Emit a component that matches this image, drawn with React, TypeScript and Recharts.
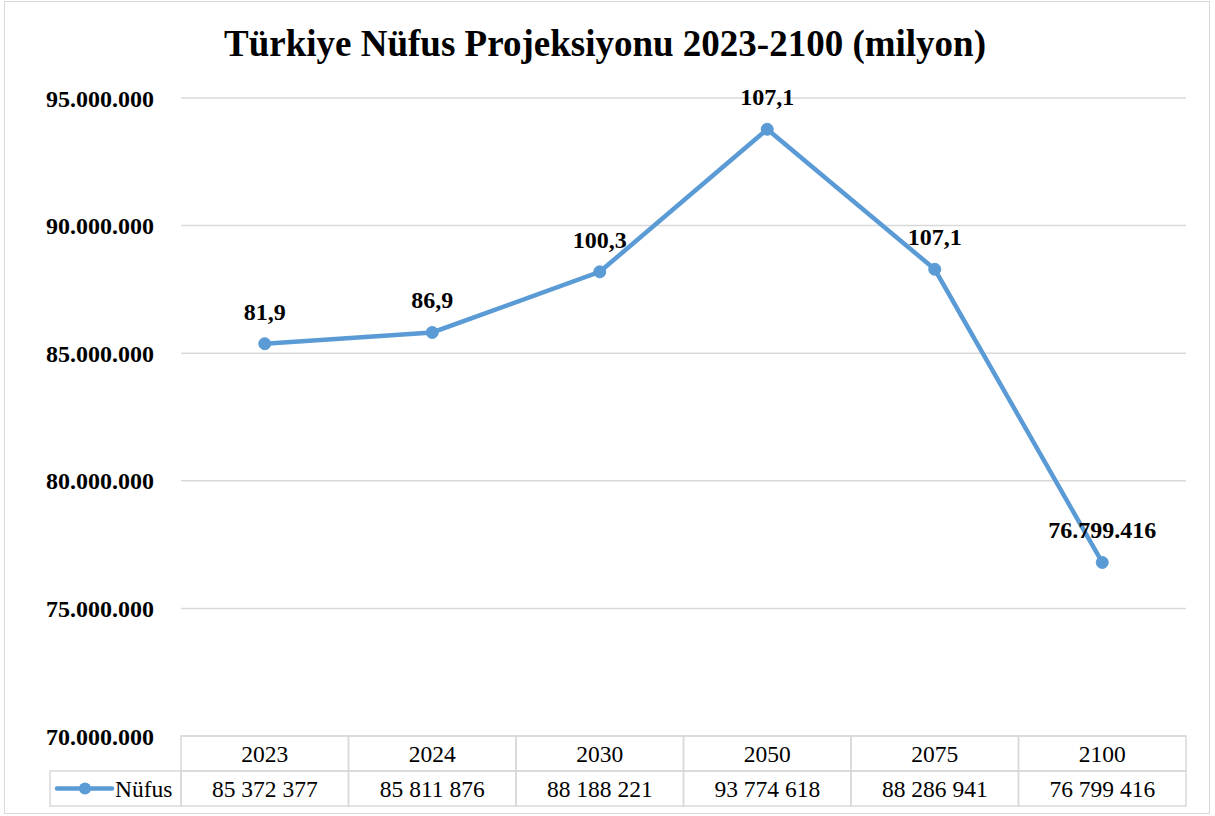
import React from 'react';
import { LineChart, Line, XAxis, YAxis, CartesianGrid, LabelList } from 'recharts';

const years = ['2023', '2024', '2030', '2050', '2075', '2100'];
const population = [85372377, 85811876, 88188221, 93774618, 88286941, 76799416];
const tableValues = ['85 372 377', '85 811 876', '88 188 221', '93 774 618', '88 286 941', '76 799 416'];
const pointLabels = ['81,9', '86,9', '100,3', '107,1', '107,1', '76.799.416'];
const yTicks = [70000000, 75000000, 80000000, 85000000, 90000000, 95000000];

const data = years.map((year, i) => ({ year, value: population[i] }));

const FONT = '"Liberation Serif", "Times New Roman", serif';
const BLUE = '#5b9bd5';
const GRID = '#d9d9d9';
const W = 1215;
const H = 816;
const PLOT_LEFT = 181;
const PLOT_RIGHT = 1186;
const PLOT_BOTTOM = 736;
const ROW_H = 35;
const COL_W = (PLOT_RIGHT - PLOT_LEFT) / years.length;

const TableTick = (props: any) => {
  const { x, payload } = props;
  const i = payload.index;
  const left = x - COL_W / 2;
  return (
    <g>
      <rect x={left} y={PLOT_BOTTOM} width={COL_W} height={ROW_H} fill="none" stroke={GRID} strokeWidth={1.5} />
      <rect x={left} y={PLOT_BOTTOM + ROW_H} width={COL_W} height={ROW_H} fill="none" stroke={GRID} strokeWidth={1.5} />
      <text x={x} y={PLOT_BOTTOM + ROW_H / 2 + 8} textAnchor="middle" fontSize={23.5} fontFamily={FONT} fill="#000">
        {payload.value}
      </text>
      <text x={x} y={PLOT_BOTTOM + ROW_H * 1.5 + 8} textAnchor="middle" fontSize={23.5} fontFamily={FONT} fill="#000">
        {tableValues[i]}
      </text>
      {i === 0 && (
        <g>
          <rect x={50} y={PLOT_BOTTOM + ROW_H} width={PLOT_LEFT - 50} height={ROW_H} fill="none" stroke={GRID} strokeWidth={1.5} />
          <line x1={57} x2={112} y1={PLOT_BOTTOM + ROW_H * 1.5} y2={PLOT_BOTTOM + ROW_H * 1.5} stroke={BLUE} strokeWidth={4.5} strokeLinecap="round" />
          <circle cx={85} cy={PLOT_BOTTOM + ROW_H * 1.5} r={6} fill={BLUE} />
          <text x={115} y={PLOT_BOTTOM + ROW_H * 1.5 + 8} fontSize={23.5} fontFamily={FONT} fill="#000">
            Nüfus
          </text>
        </g>
      )}
    </g>
  );
};

const PointLabel = (props: any) => {
  const { x, y, index } = props;
  return (
    <text x={x} y={y - 24} textAnchor="middle" fontSize={24} fontWeight="bold" fontFamily={FONT} fill="#000">
      {pointLabels[index]}
    </text>
  );
};

const App: React.FC = () => {
  return (
    <div style={{ position: 'fixed', left: 0, top: 0, width: W, height: H, background: '#fff' }}>
      <div
        style={{
          position: 'absolute',
          left: 4,
          top: 1,
          width: 1206,
          height: 813,
          border: `1.5px solid ${GRID}`,
          boxSizing: 'border-box',
        }}
      />
      <div
        style={{
          position: 'absolute',
          left: 0,
          top: 20,
          width: W - 5,
          textAlign: 'center',
          fontFamily: FONT,
          fontWeight: 'bold',
          fontSize: 37,
          lineHeight: '48px',
          color: '#000',
        }}
      >
        Türkiye Nüfus Projeksiyonu 2023-2100 (milyon)
      </div>
      <div style={{ position: 'absolute', left: 0, top: 0 }}>
        <LineChart
          width={W}
          height={H}
          data={data}
          margin={{ top: 98, right: W - PLOT_RIGHT, left: 0, bottom: 10 }}
        >
          <CartesianGrid vertical={false} stroke={GRID} strokeWidth={1.5} />
          <XAxis
            dataKey="year"
            axisLine={false}
            tickLine={false}
            height={H - 10 - PLOT_BOTTOM}
            tick={<TableTick />}
            interval={0}
            padding={{ left: COL_W / 2, right: COL_W / 2 }}
          />
          <YAxis
            domain={[70000000, 95000000]}
            ticks={yTicks}
            width={PLOT_LEFT}
            axisLine={false}
            tickLine={false}
            tickMargin={21}
            tickFormatter={(v: number) => v.toLocaleString('de-DE')}
            tick={{ fontSize: 24, fontWeight: 'bold', fontFamily: FONT, fill: '#000' }}
          />
          <Line
            dataKey="value"
            stroke={BLUE}
            strokeWidth={4.5}
            dot={{ r: 6, fill: BLUE, stroke: BLUE, strokeWidth: 1 }}
            isAnimationActive={false}
          >
            <LabelList dataKey="value" content={<PointLabel />} />
          </Line>
        </LineChart>
      </div>
    </div>
  );
};

export default App;
